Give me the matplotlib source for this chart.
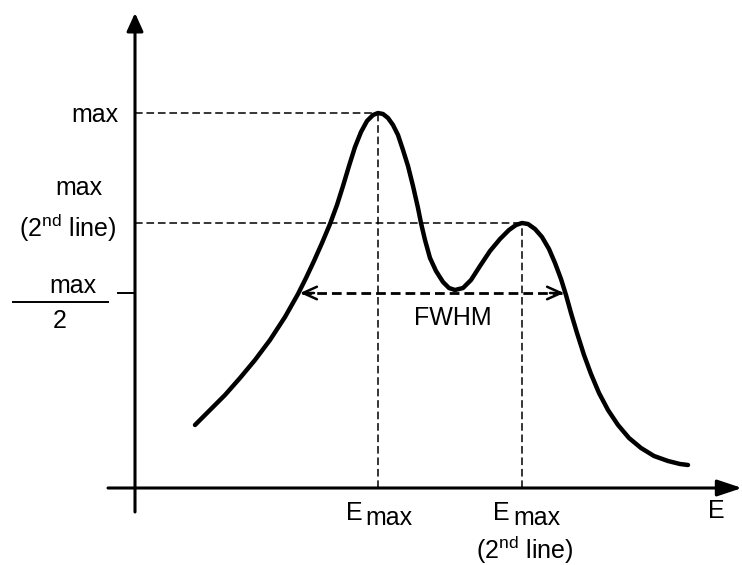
"""
Schematic of a two-peak emission band: max, second max, half max and FWHM.
Coordinates are plain units with the origin at the axis crossing.
"""

import matplotlib
matplotlib.use("Agg")
import matplotlib.pyplot as plt

plt.rcParams["font.family"] = ["Liberation Sans", "DejaVu Sans"]
plt.rcParams["mathtext.fontset"] = "custom"
plt.rcParams["mathtext.rm"] = "Liberation Sans"
plt.rcParams["mathtext.it"] = "Liberation Sans:italic"

# band shape (energy, intensity)
energy = [60, 75, 90, 105, 120, 135, 150, 163, 171, 179, 187, 195, 202,
          208, 214, 220, 226, 232, 238, 243, 248, 253, 258, 263, 268, 273, 278,
          283, 286, 290, 295, 301, 308, 314, 320, 328, 336, 345, 355, 365, 374,
          381, 387, 393, 400, 407, 414, 420, 426, 431, 436, 442, 449, 456, 464,
          473, 483, 494, 506, 519, 533, 545, 553]
intensity = [63, 78, 93, 110, 128, 148, 171, 194, 210, 227, 245, 264, 283,
             302, 322, 341, 356, 367, 373, 375, 374, 370, 363, 353, 338, 322, 302,
             280, 265, 248, 230, 217, 206, 200, 198, 200, 208, 222, 237, 249, 258,
             263, 265, 264, 259, 251, 239, 225, 209, 193, 175, 155, 133, 114, 95,
             78, 63, 50, 40, 32, 27, 24, 23]

e_max = 243          # main peak position
i_max = 375
e_max2 = 387         # second line
i_max2 = 265
i_half = 195
fwhm_left = 165
fwhm_right = 429

FS = 18
fig = plt.figure(figsize=(7.42, 5.65), dpi=100)
ax = fig.add_axes([0, 0, 1, 1])
ax.set_xlim(-135, 607)
ax.set_ylim(-77, 488)
ax.axis("off")

# axes with arrow heads
ax.annotate("", xy=(607, 0), xytext=(-27, 0),
            arrowprops=dict(arrowstyle="-|>,head_length=1.5,head_width=0.5",
                            mutation_scale=10, lw=2.2, color="black",
                            shrinkA=0, shrinkB=0))
ax.annotate("", xy=(0, 475), xytext=(0, -24),
            arrowprops=dict(arrowstyle="-|>,head_length=1.1,head_width=0.5",
                            mutation_scale=10, lw=2.2, color="black",
                            shrinkA=0, shrinkB=0))

# guide lines
thin = dict(color="black", lw=1.1, ls=(0, (5, 2.5)))
ax.plot([0, e_max], [i_max, i_max], **thin)
ax.plot([e_max, e_max], [0, i_max], **thin)
ax.plot([0, e_max2], [i_max2, i_max2], **thin)
ax.plot([e_max2, e_max2], [0, i_max2], **thin)
ax.plot([-17, 0], [i_half, i_half], color="black", lw=1.4)

# FWHM arrow
ax.plot([fwhm_left + 2, fwhm_right - 2], [i_half, i_half],
        color="black", lw=2.0, ls=(0, (3.5, 1.8)))
for tip, tail in [(fwhm_left, fwhm_left + 14), (fwhm_right, fwhm_right - 14)]:
    ax.annotate("", xy=(tip, i_half), xytext=(tail, i_half),
                arrowprops=dict(arrowstyle="->,head_length=1.0,head_width=0.45",
                                mutation_scale=10, lw=1.8, color="black",
                                shrinkA=0, shrinkB=0))

# the band itself
ax.plot(energy, intensity, color="black", lw=3.2, solid_capstyle="round",
        solid_joinstyle="round")

# y labels
ax.text(-17, 366, "max", fontsize=FS, ha="right", va="baseline")
ax.text(-56, 293, "max", fontsize=FS, ha="center", va="baseline")
ax.text(-67, 251, r"(2$^{\mathrm{nd}}$ line)", fontsize=FS, ha="center", va="baseline")
ax.text(-62, 195, "max", fontsize=FS, ha="center", va="baseline")
ax.plot([-122, -27], [186, 186], color="black", lw=1.4)
ax.text(-75, 160, "2", fontsize=FS, ha="center", va="baseline")

# x labels
ax.text(318, 163, "FWHM", fontsize=FS, ha="center", va="baseline")
ax.text(211, -32, "E", fontsize=FS, ha="left", va="baseline")
ax.text(230, -37, "max", fontsize=FS, ha="left", va="baseline")
ax.text(358, -32, "E", fontsize=FS, ha="left", va="baseline")
ax.text(378, -37, "max", fontsize=FS, ha="left", va="baseline")
ax.text(390, -71, r"(2$^{\mathrm{nd}}$ line)", fontsize=FS, ha="center", va="baseline")
ax.text(573, -30, "E", fontsize=FS, ha="left", va="baseline")

fig.savefig("out.png", dpi=100)
